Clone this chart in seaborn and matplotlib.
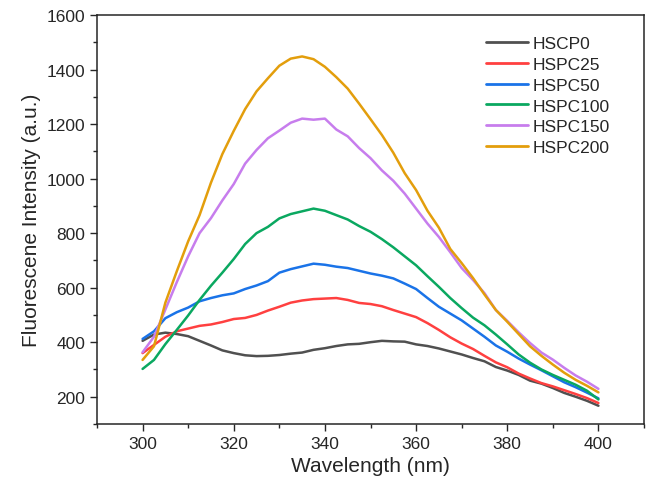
import numpy as np
import pandas as pd
import seaborn as sns
import matplotlib.pyplot as plt
from matplotlib.ticker import MultipleLocator

# wavelength grid (nm)
wavelength = np.arange(300, 400.1, 2.5)

hscp0 = [405, 428, 435, 430, 422, 405, 388, 370, 360, 352, 349, 350, 353, 358, 362, 372, 378,
         386, 392, 394, 400, 405, 403, 402, 392, 386, 377, 366, 355, 342, 330, 309, 296, 280,
         259, 248, 232, 214, 200, 185, 167]
hspc25 = [360, 390, 420, 440, 450, 460, 465, 474, 485, 489, 500, 516, 530, 545, 553, 558, 560,
          562, 555, 544, 540, 532, 518, 505, 492, 470, 445, 418, 395, 375, 350, 326, 308, 285,
          267, 250, 238, 224, 210, 195, 177]
hspc50 = [412, 440, 488, 510, 527, 550, 562, 572, 579, 595, 608, 624, 655, 668, 678, 688, 684,
          677, 672, 662, 652, 644, 634, 615, 595, 562, 530, 505, 480, 450, 420, 388, 365, 340,
          318, 297, 275, 253, 235, 215, 194]
hspc100 = [302, 335, 393, 445, 498, 555, 607, 655, 705, 760, 800, 823, 854, 870, 880, 890, 882,
           866, 850, 826, 805, 778, 748, 715, 682, 642, 603, 562, 525, 490, 462, 428, 392, 355,
           325, 300, 280, 262, 244, 222, 190]
hspc150 = [363, 420, 520, 620, 715, 800, 855, 920, 980, 1055, 1105, 1148, 1176, 1205, 1220, 1216,
           1220, 1180, 1155, 1112, 1075, 1030, 992, 945, 890, 835, 786, 730, 672, 628, 580, 518,
           478, 436, 397, 362, 336, 306, 278, 255, 229]
hspc200 = [335, 385, 545, 660, 770, 866, 985, 1090, 1175, 1255, 1320, 1368, 1414, 1440, 1448, 1438,
           1410, 1372, 1330, 1275, 1218, 1160, 1095, 1020, 958, 882, 820, 742, 690, 635, 575, 518,
           475, 430, 385, 350, 318, 288, 262, 240, 216]

labels = ['HSCP0', 'HSPC25', 'HSPC50', 'HSPC100', 'HSPC150', 'HSPC200']
colors = ['#505050', '#ff4040', '#1a73e8', '#0aa860', '#c77ded', '#e39e0c']
series = [hscp0, hspc25, hspc50, hspc100, hspc150, hspc200]

df = pd.concat([pd.DataFrame({'Wavelength': wavelength, 'Intensity': s, 'Sample': lab})
                for lab, s in zip(labels, series)], ignore_index=True)

sns.set_style('ticks')
plt.rcParams['font.family'] = ['Liberation Sans', 'DejaVu Sans']

fig = plt.figure(figsize=(6.58, 5.02), dpi=100)
ax = fig.add_axes([97 / 658, 1 - 425 / 502, (644 - 97) / 658, (425 - 16) / 502])
sns.lineplot(data=df, x='Wavelength', y='Intensity', hue='Sample', hue_order=labels,
             palette=colors, linewidth=1.8, ax=ax)

ax.set_xlim(290, 410)
ax.set_ylim(100, 1600)
ax.xaxis.set_major_locator(MultipleLocator(20))
ax.xaxis.set_minor_locator(MultipleLocator(10))
ax.yaxis.set_major_locator(MultipleLocator(200))
ax.yaxis.set_minor_locator(MultipleLocator(100))
ax.tick_params(which='major', direction='out', length=5, width=1, labelsize=12.5)
ax.tick_params(which='minor', direction='out', length=3, width=1)
ax.set_xticks(np.arange(300, 401, 20))
ax.set_yticks(np.arange(200, 1601, 200))
for sp in ax.spines.values():
    sp.set_linewidth(1.1)
    sp.set_visible(True)

ax.set_xlabel('Wavelength (nm)', fontsize=15)
ax.set_ylabel('Fluorescene Intensity (a.u.)', fontsize=15)

leg = ax.legend(loc='upper left', bbox_to_anchor=(0.711, 0.948), frameon=False, fontsize=12.5,
                handlelength=2.4, labelspacing=0.32, handletextpad=0.3, borderpad=0,
                borderaxespad=0, title=None)
for line in leg.get_lines():
    line.set_linewidth(2)

fig.savefig('out.png', dpi=100)
